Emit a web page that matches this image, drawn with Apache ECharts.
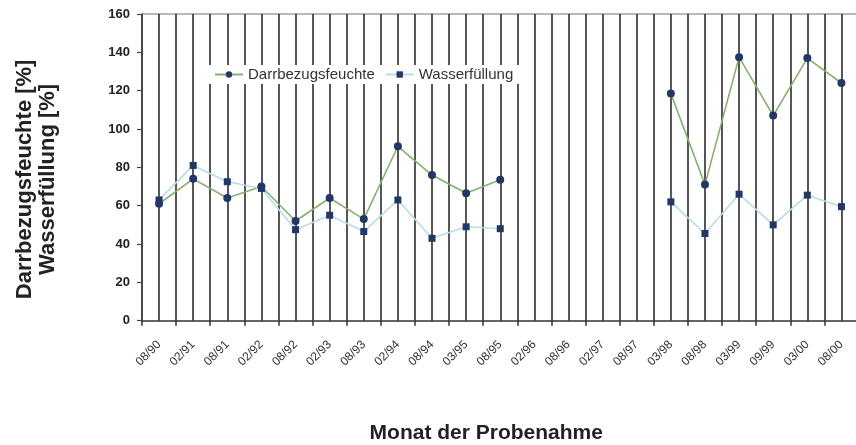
<!DOCTYPE html>
<html>
<head>
<meta charset="utf-8">
<script src="https://cdn.jsdelivr.net/npm/echarts@6/dist/echarts.min.js"></script>
<style>
  html, body { margin: 0; padding: 0; background: #fff; }
  #chart { width: 856px; height: 445px; }
</style>
</head>
<body>
<div id="chart"></div>
<script>
// Sampling months
const months = ['08/90', '02/91', '08/91', '02/92', '08/92', '02/93', '08/93', '02/94', '08/94', '03/95',
  '08/95', '02/96', '08/96', '02/97', '08/97', '03/98', '08/98', '03/99', '09/99', '03/00', '08/00'];

// Moisture relative to dry mass [%]
const darrbezugsfeuchte = [61, 74, 64, 70, 52, 64, 53, 91, 76, 66.5,
  73.5, null, null, null, null, 118.5, 71, 137.5, 107, 137, 124];

// Degree of water filling [%]
const wasserfuellung = [63, 81, 72.5, 69, 47.5, 55, 46.5, 63, 43, 49,
  48, null, null, null, null, 62, 45.5, 66, 50, 65.5, 59.5];

// Y axis ticks
const yMin = 0, yMax = 160, yStep = 20;

const FONT = '"Liberation Sans", Arial, sans-serif';

// Half-month grid: a line at every category boundary and every category centre
const halfSteps = [];
for (let i = 0; i < months.length * 2; i++) halfSteps.push('');

// Only the top gridline is visible (plot frame top)
const splitColors = [];
for (let v = yMin; v <= yMax; v += yStep) splitColors.push(v === yMax ? '#a0a0a0' : 'rgba(0,0,0,0)');

const chart = echarts.init(document.getElementById('chart'), null, { renderer: 'canvas' });

chart.setOption({
  animation: false,
  backgroundColor: '#ffffff',
  textStyle: { fontFamily: FONT },
  grid: { left: 142, top: 14, width: 716.5, height: 306.7, containLabel: false, outerBoundsMode: 'none' },
  legend: {
    left: 208,
    top: 65,
    padding: [2, 6],
    backgroundColor: '#ffffff',
    itemWidth: 28,
    itemHeight: 8,
    itemGap: 10,
    textStyle: { fontFamily: FONT, fontSize: 15, color: '#333' },
    data: ['Darrbezugsfeuchte', 'Wasserfüllung']
  },
  xAxis: [
    {
      type: 'category',
      data: months,
      boundaryGap: true,
      name: 'Monat der Probenahme',
      nameLocation: 'middle',
      nameGap: 102,
      nameTextStyle: { fontFamily: FONT, fontSize: 21, fontWeight: 'bold', color: '#222', padding: [0, 28, 0, 0] },
      axisLine: { lineStyle: { color: '#333', width: 1.5 } },
      axisTick: { show: true, interval: 0, length: 5, lineStyle: { color: '#333', width: 1.5 } },
      axisLabel: { interval: 0, rotate: 45, margin: 22, fontSize: 12, color: '#333', fontFamily: FONT },
      splitLine: { show: false }
    },
    {
      type: 'category',
      data: halfSteps,
      boundaryGap: true,
      position: 'bottom',
      axisLine: { show: false },
      axisTick: { show: false },
      axisLabel: { show: false },
      splitLine: { show: true, interval: 0, lineStyle: { color: '#1e1e1e', width: 1.5 } }
    }
  ],
  yAxis: {
    type: 'value',
    min: yMin,
    max: yMax,
    interval: yStep,
    name: 'Darrbezugsfeuchte [%]\nWasserfüllung [%]',
    nameLocation: 'middle',
    nameRotate: 90,
    nameGap: 83,
    nameTextStyle: { fontFamily: FONT, fontSize: 22, fontWeight: 'bold', color: '#222', lineHeight: 23, align: 'center', padding: [0, 24, 0, 0] },
    axisLine: { show: true, lineStyle: { color: '#444', width: 1.5 } },
    axisTick: { show: true, length: 5, lineStyle: { color: '#444', width: 1.2 } },
    axisLabel: { margin: 12, fontSize: 13, fontWeight: 'bold', color: '#222', fontFamily: FONT },
    splitLine: { show: true, lineStyle: { color: splitColors, width: 1.5 } }
  },
  series: [
    {
      name: 'Darrbezugsfeuchte',
      type: 'line',
      data: darrbezugsfeuchte,
      connectNulls: false,
      symbol: 'circle',
      symbolSize: 8,
      itemStyle: { color: '#223766' },
      lineStyle: { color: '#86b070', width: 1.6 },
      z: 3
    },
    {
      name: 'Wasserfüllung',
      type: 'line',
      data: wasserfuellung,
      connectNulls: false,
      symbol: 'rect',
      symbolSize: 7,
      itemStyle: { color: '#223766' },
      lineStyle: { color: '#b6dee6', width: 1.6 },
      z: 3
    }
  ]
});
</script>
</body>
</html>
